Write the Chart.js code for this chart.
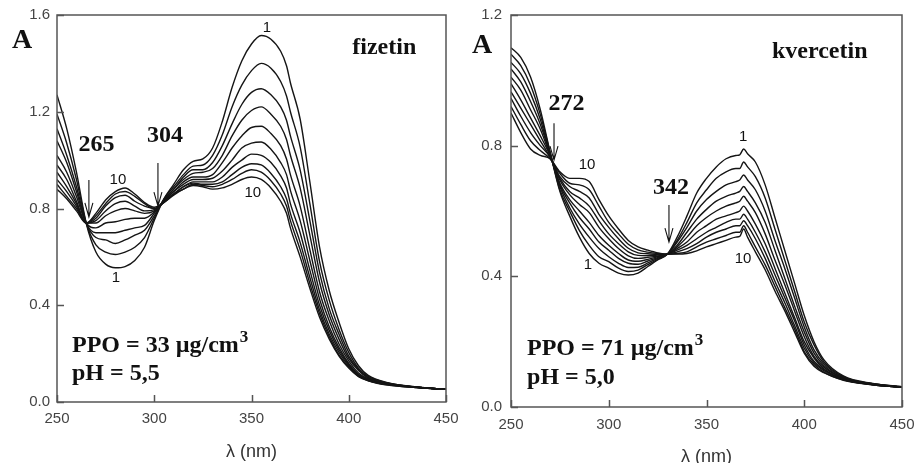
<!DOCTYPE html>
<html>
<head>
<meta charset="utf-8">
<script src="https://cdn.jsdelivr.net/npm/chart.js@4.4.1/dist/chart.umd.min.js"></script>
<style>
  body { margin: 0; background: #fff; width: 916px; height: 463px; overflow: hidden; position: relative; }
  .panel { position: absolute; top: 0; width: 458px; height: 463px; }
</style>
</head>
<body>
<div class="panel" style="left:0"><canvas id="fizetinChart" width="458" height="463"></canvas></div>
<div class="panel" style="left:458px"><canvas id="kvercetinChart" width="458" height="463"></canvas></div>
<script>
// wavelengths (nm) and absorbance curves 1..10
const xTicks = [250, 300, 350, 400, 450];
const fizetinYTicks = [0, 0.4, 0.8, 1.2, 1.6];
const kvercetinYTicks = [0, 0.4, 0.8, 1.2];

const fizetinWavelengths = [250,255,260,265,270,275,280,285,290,295,300,305,310,315,320,325,330,335,340,345,350,355,360,365,368,370,375,380,385,390,395,400,405,410,420,435,450];
const fizetin1  = [1.27,1.13,0.95,0.74,0.62,0.57,0.555,0.56,0.585,0.64,0.75,0.84,0.90,0.96,0.995,1.005,1.05,1.16,1.30,1.41,1.48,1.515,1.50,1.45,1.39,1.32,1.17,0.91,0.64,0.46,0.33,0.22,0.15,0.11,0.08,0.062,0.052];
const fizetin2  = [1.19,1.07,0.92,0.74,0.65,0.62,0.61,0.62,0.64,0.68,0.76,0.84,0.89,0.94,0.975,0.98,1.02,1.105,1.22,1.31,1.37,1.40,1.38,1.325,1.265,1.20,1.055,0.82,0.58,0.42,0.30,0.205,0.14,0.106,0.079,0.062,0.052];
const fizetin3  = [1.13,1.02,0.89,0.74,0.68,0.67,0.655,0.67,0.69,0.71,0.77,0.835,0.88,0.93,0.96,0.96,0.99,1.06,1.15,1.23,1.28,1.295,1.27,1.22,1.165,1.10,0.96,0.75,0.535,0.385,0.28,0.19,0.135,0.102,0.078,0.061,0.052];
const fizetin4  = [1.08,0.99,0.87,0.74,0.70,0.70,0.70,0.71,0.72,0.73,0.78,0.835,0.88,0.92,0.945,0.95,0.965,1.02,1.10,1.165,1.205,1.22,1.19,1.14,1.085,1.02,0.885,0.69,0.495,0.36,0.26,0.18,0.13,0.099,0.077,0.061,0.052];
const fizetin5  = [1.02,0.95,0.85,0.74,0.72,0.74,0.745,0.755,0.76,0.76,0.785,0.83,0.87,0.91,0.93,0.93,0.94,0.99,1.05,1.10,1.135,1.14,1.11,1.06,1.005,0.94,0.81,0.63,0.455,0.335,0.24,0.17,0.12,0.096,0.076,0.061,0.052];
const fizetin6  = [0.98,0.92,0.83,0.74,0.74,0.77,0.79,0.80,0.79,0.78,0.79,0.83,0.87,0.90,0.92,0.92,0.925,0.955,1.00,1.05,1.07,1.075,1.045,0.99,0.94,0.875,0.75,0.585,0.425,0.31,0.225,0.16,0.115,0.094,0.075,0.061,0.052];
const fizetin7  = [0.95,0.89,0.82,0.74,0.75,0.79,0.82,0.83,0.81,0.79,0.795,0.83,0.86,0.89,0.91,0.91,0.91,0.93,0.97,1.00,1.025,1.02,0.99,0.935,0.885,0.82,0.70,0.545,0.40,0.295,0.215,0.155,0.11,0.092,0.074,0.061,0.052];
const fizetin8  = [0.92,0.87,0.81,0.74,0.76,0.81,0.845,0.855,0.83,0.81,0.80,0.825,0.86,0.89,0.905,0.90,0.90,0.91,0.94,0.97,0.985,0.98,0.945,0.89,0.84,0.78,0.66,0.515,0.38,0.28,0.205,0.15,0.11,0.09,0.073,0.060,0.052];
const fizetin9  = [0.90,0.85,0.80,0.74,0.77,0.82,0.86,0.87,0.85,0.82,0.80,0.825,0.86,0.88,0.90,0.895,0.89,0.90,0.92,0.945,0.96,0.95,0.915,0.86,0.81,0.75,0.63,0.49,0.365,0.27,0.195,0.145,0.107,0.089,0.071,0.060,0.052];
const fizetin10 = [0.88,0.84,0.79,0.74,0.78,0.835,0.87,0.885,0.86,0.825,0.805,0.825,0.855,0.88,0.895,0.89,0.88,0.885,0.90,0.92,0.93,0.92,0.885,0.83,0.78,0.72,0.60,0.47,0.35,0.26,0.19,0.14,0.105,0.088,0.07,0.060,0.052];

const kvercetinWavelengths = [250,255,260,265,270,275,280,285,290,295,300,305,310,315,320,325,330,335,340,345,350,355,360,365,367,369,371,375,380,385,390,395,400,405,410,420,435,450];
const kvercetin1  = [1.10,1.07,1.01,0.91,0.78,0.66,0.585,0.52,0.47,0.44,0.425,0.41,0.404,0.41,0.43,0.45,0.468,0.52,0.585,0.655,0.70,0.735,0.76,0.77,0.772,0.79,0.775,0.75,0.68,0.58,0.48,0.38,0.28,0.20,0.145,0.095,0.072,0.062];
const kvercetin2  = [1.08,1.045,0.985,0.895,0.78,0.665,0.60,0.54,0.495,0.46,0.445,0.425,0.415,0.419,0.436,0.452,0.468,0.51,0.565,0.625,0.665,0.70,0.72,0.73,0.73,0.75,0.735,0.705,0.64,0.545,0.45,0.355,0.26,0.19,0.139,0.093,0.071,0.062];
const kvercetin3  = [1.055,1.02,0.96,0.88,0.775,0.675,0.61,0.56,0.52,0.485,0.46,0.44,0.427,0.428,0.441,0.455,0.468,0.505,0.55,0.60,0.635,0.66,0.68,0.69,0.695,0.71,0.695,0.665,0.60,0.51,0.425,0.335,0.245,0.175,0.133,0.091,0.071,0.061];
const kvercetin4  = [1.035,0.995,0.935,0.865,0.775,0.68,0.625,0.58,0.545,0.505,0.48,0.455,0.44,0.437,0.447,0.457,0.468,0.495,0.535,0.575,0.605,0.63,0.645,0.655,0.66,0.675,0.66,0.625,0.565,0.48,0.395,0.31,0.23,0.165,0.127,0.089,0.070,0.061];
const kvercetin5  = [1.01,0.97,0.91,0.85,0.77,0.685,0.635,0.60,0.565,0.525,0.495,0.47,0.45,0.446,0.452,0.46,0.468,0.49,0.52,0.555,0.58,0.60,0.615,0.625,0.63,0.645,0.63,0.595,0.53,0.45,0.375,0.295,0.215,0.155,0.122,0.088,0.070,0.061];
const kvercetin6  = [0.99,0.94,0.885,0.83,0.77,0.695,0.65,0.62,0.595,0.55,0.515,0.485,0.463,0.455,0.458,0.462,0.468,0.485,0.505,0.535,0.555,0.575,0.585,0.595,0.60,0.615,0.60,0.56,0.50,0.425,0.35,0.275,0.20,0.15,0.117,0.086,0.069,0.061];
const kvercetin7  = [0.965,0.915,0.865,0.815,0.765,0.70,0.66,0.64,0.615,0.57,0.53,0.50,0.475,0.464,0.463,0.465,0.468,0.48,0.495,0.515,0.535,0.55,0.565,0.575,0.575,0.59,0.575,0.535,0.475,0.405,0.335,0.265,0.19,0.14,0.114,0.085,0.069,0.060];
const kvercetin8  = [0.945,0.89,0.84,0.80,0.765,0.705,0.675,0.66,0.64,0.59,0.55,0.515,0.486,0.472,0.469,0.467,0.468,0.475,0.485,0.50,0.52,0.535,0.545,0.555,0.555,0.57,0.555,0.515,0.455,0.385,0.32,0.25,0.18,0.135,0.111,0.084,0.068,0.060];
const kvercetin9  = [0.92,0.865,0.815,0.785,0.76,0.715,0.685,0.68,0.665,0.615,0.565,0.53,0.498,0.481,0.474,0.47,0.468,0.47,0.475,0.49,0.505,0.515,0.525,0.535,0.535,0.555,0.535,0.49,0.435,0.37,0.305,0.24,0.17,0.13,0.107,0.083,0.068,0.060];
const kvercetin10 = [0.90,0.84,0.79,0.77,0.76,0.72,0.70,0.70,0.69,0.635,0.585,0.545,0.51,0.49,0.48,0.472,0.468,0.468,0.47,0.478,0.49,0.50,0.51,0.52,0.522,0.545,0.52,0.475,0.42,0.355,0.295,0.23,0.165,0.125,0.105,0.082,0.068,0.060];

const fizetinCurves = [fizetin1, fizetin2, fizetin3, fizetin4, fizetin5, fizetin6, fizetin7, fizetin8, fizetin9, fizetin10];
const kvercetinCurves = [kvercetin1, kvercetin2, kvercetin3, kvercetin4, kvercetin5, kvercetin6, kvercetin7, kvercetin8, kvercetin9, kvercetin10];

const serifBold = (size) => 'bold ' + size + 'px "Liberation Serif", "Times New Roman", serif';
const sans = (size) => size + 'px "Liberation Sans", Arial, sans-serif';

// frame, inward ticks, x title and the text notes
const decorPlugin = {
  id: 'decor',
  afterDraw(chart, args, opts) {
    const { ctx, chartArea: a } = chart;
    const x = chart.scales.x, y = chart.scales.y;
    ctx.save();
    ctx.strokeStyle = '#555';
    ctx.lineWidth = 1.5;
    ctx.strokeRect(a.left, a.top, a.right - a.left, a.bottom - a.top);
    ctx.beginPath();
    xTicks.forEach(v => {
      const px = Math.round(x.getPixelForValue(v)) + 0.5;
      ctx.moveTo(px, a.bottom); ctx.lineTo(px, a.bottom - 7);
    });
    opts.yTicks.forEach(v => {
      const py = Math.round(y.getPixelForValue(v)) + 0.5;
      ctx.moveTo(a.left, py); ctx.lineTo(a.left + 7, py);
    });
    ctx.stroke();

    ctx.fillStyle = '#333';
    ctx.font = sans(18);
    ctx.textAlign = 'center';
    ctx.textBaseline = 'middle';
    ctx.fillText('λ (nm)', (a.left + a.right) / 2, a.bottom + opts.titleOffset);

    ctx.fillStyle = '#111';
    opts.notes.forEach(n => {
      ctx.font = n.font;
      ctx.textAlign = n.align || 'center';
      ctx.textBaseline = n.base || 'middle';
      const px = x.getPixelForValue(n.x), py = y.getPixelForValue(n.y);
      ctx.fillText(n.text, px, py);
      if (n.sup) {
        const w = ctx.measureText(n.text).width;
        ctx.font = serifBold(17);
        ctx.textAlign = 'left';
        ctx.fillText(n.sup, px + w + 1, py - 10);
      }
    });

    ctx.strokeStyle = '#111';
    ctx.lineWidth = 1.1;
    opts.arrows.forEach(ar => {
      const px = x.getPixelForValue(ar.x);
      const y1 = y.getPixelForValue(ar.from), y2 = y.getPixelForValue(ar.to);
      ctx.beginPath();
      ctx.moveTo(px, y1); ctx.lineTo(px, y2);
      ctx.moveTo(px - 4, y2 - 14); ctx.lineTo(px, y2); ctx.lineTo(px + 4, y2 - 14);
      ctx.stroke();
    });
    ctx.restore();
  }
};

function makeChart(id, wavelengths, curves, yMax, yTicks, box, notes, arrows) {
  const datasets = curves.map((curve, i) => ({
    label: 'curve ' + (i + 1),
    data: curve.map((v, j) => ({ x: wavelengths[j], y: v })),
    borderColor: '#151515',
    borderWidth: 1.4,
    pointRadius: 0,
    fill: false,
    cubicInterpolationMode: 'monotone'
  }));

  return new Chart(document.getElementById(id), {
    type: 'line',
    data: { datasets: datasets },
    plugins: [decorPlugin],
    options: {
      responsive: false,
      animation: false,
      events: [],
      layout: { padding: { top: 15, right: box.right, left: 0, bottom: 0 } },
      plugins: {
        legend: { display: false },
        tooltip: { enabled: false },
        decor: { yTicks: yTicks, notes: notes, arrows: arrows, titleOffset: box.titleOffset }
      },
      scales: {
        x: {
          type: 'linear',
          min: 250,
          max: 450,
          grid: { display: false, drawTicks: false },
          border: { display: false },
          afterBuildTicks: s => { s.ticks = xTicks.map(v => ({ value: v })); },
          afterFit: s => { s.height = box.xHeight; s.paddingLeft = 0; s.paddingRight = 0; },
          ticks: {
            color: '#444',
            font: { family: '"Liberation Sans", Arial, sans-serif', size: 15 },
            padding: box.xPad,
            maxRotation: 0,
            callback: v => String(v)
          }
        },
        y: {
          type: 'linear',
          min: 0,
          max: yMax,
          grid: { display: false, drawTicks: false },
          border: { display: false },
          afterBuildTicks: s => { s.ticks = yTicks.map(v => ({ value: v })); },
          afterFit: s => { s.width = box.yWidth; s.paddingTop = 0; s.paddingBottom = 0; },
          ticks: {
            color: '#444',
            font: { family: '"Liberation Sans", Arial, sans-serif', size: 15 },
            padding: box.yPad,
            callback: v => v.toFixed(1)
          }
        }
      }
    }
  });
}

makeChart('fizetinChart', fizetinWavelengths, fizetinCurves, 1.6, fizetinYTicks,
  { right: 12, yWidth: 57, xHeight: 61, xPad: 8, yPad: 7, titleOffset: 50 },
  [
    { text: 'A', x: 226.9, y: 1.463, font: serifBold(28), align: 'left', base: 'alphabetic' },
    { text: 'fizetin', x: 401.8, y: 1.44, font: serifBold(24), align: 'left', base: 'alphabetic' },
    { text: '265', x: 270.3, y: 1.064, font: serifBold(24) },
    { text: '304', x: 305.5, y: 1.10, font: serifBold(24) },
    { text: '10', x: 281.3, y: 0.918, font: sans(15) },
    { text: '1', x: 280.3, y: 0.513, font: sans(15) },
    { text: '1', x: 357.9, y: 1.546, font: sans(15) },
    { text: '10', x: 350.7, y: 0.864, font: sans(15) },
    { text: 'PPO = 33 µg/cm', sup: '3', x: 257.7, y: 0.207, font: serifBold(24), align: 'left', base: 'alphabetic' },
    { text: 'pH = 5,5', x: 257.7, y: 0.091, font: serifBold(24), align: 'left', base: 'alphabetic' }
  ],
  [
    { x: 266.4, from: 0.918, to: 0.765 },
    { x: 301.9, from: 0.988, to: 0.81 }
  ]);

makeChart('kvercetinChart', kvercetinWavelengths, kvercetinCurves, 1.2, kvercetinYTicks,
  { right: 14, yWidth: 53, xHeight: 56, xPad: 9, yPad: 9, titleOffset: 50 },
  [
    { text: 'A', x: 230.1, y: 1.084, font: serifBold(28), align: 'left', base: 'alphabetic' },
    { text: 'kvercetin', x: 383.5, y: 1.068, font: serifBold(24), align: 'left', base: 'alphabetic' },
    { text: '272', x: 278.4, y: 0.929, font: serifBold(24) },
    { text: '342', x: 331.8, y: 0.672, font: serifBold(24) },
    { text: '10', x: 288.9, y: 0.741, font: sans(15) },
    { text: '1', x: 289.4, y: 0.435, font: sans(15) },
    { text: '1', x: 368.7, y: 0.826, font: sans(15) },
    { text: '10', x: 368.7, y: 0.453, font: sans(15) },
    { text: 'PPO = 71 µg/cm', sup: '3', x: 258.2, y: 0.159, font: serifBold(24), align: 'left', base: 'alphabetic' },
    { text: 'pH = 5,0', x: 258.2, y: 0.070, font: serifBold(24), align: 'left', base: 'alphabetic' }
  ],
  [
    { x: 272, from: 0.869, to: 0.756 },
    { x: 330.8, from: 0.618, to: 0.505 }
  ]);
</script>
</body>
</html>
